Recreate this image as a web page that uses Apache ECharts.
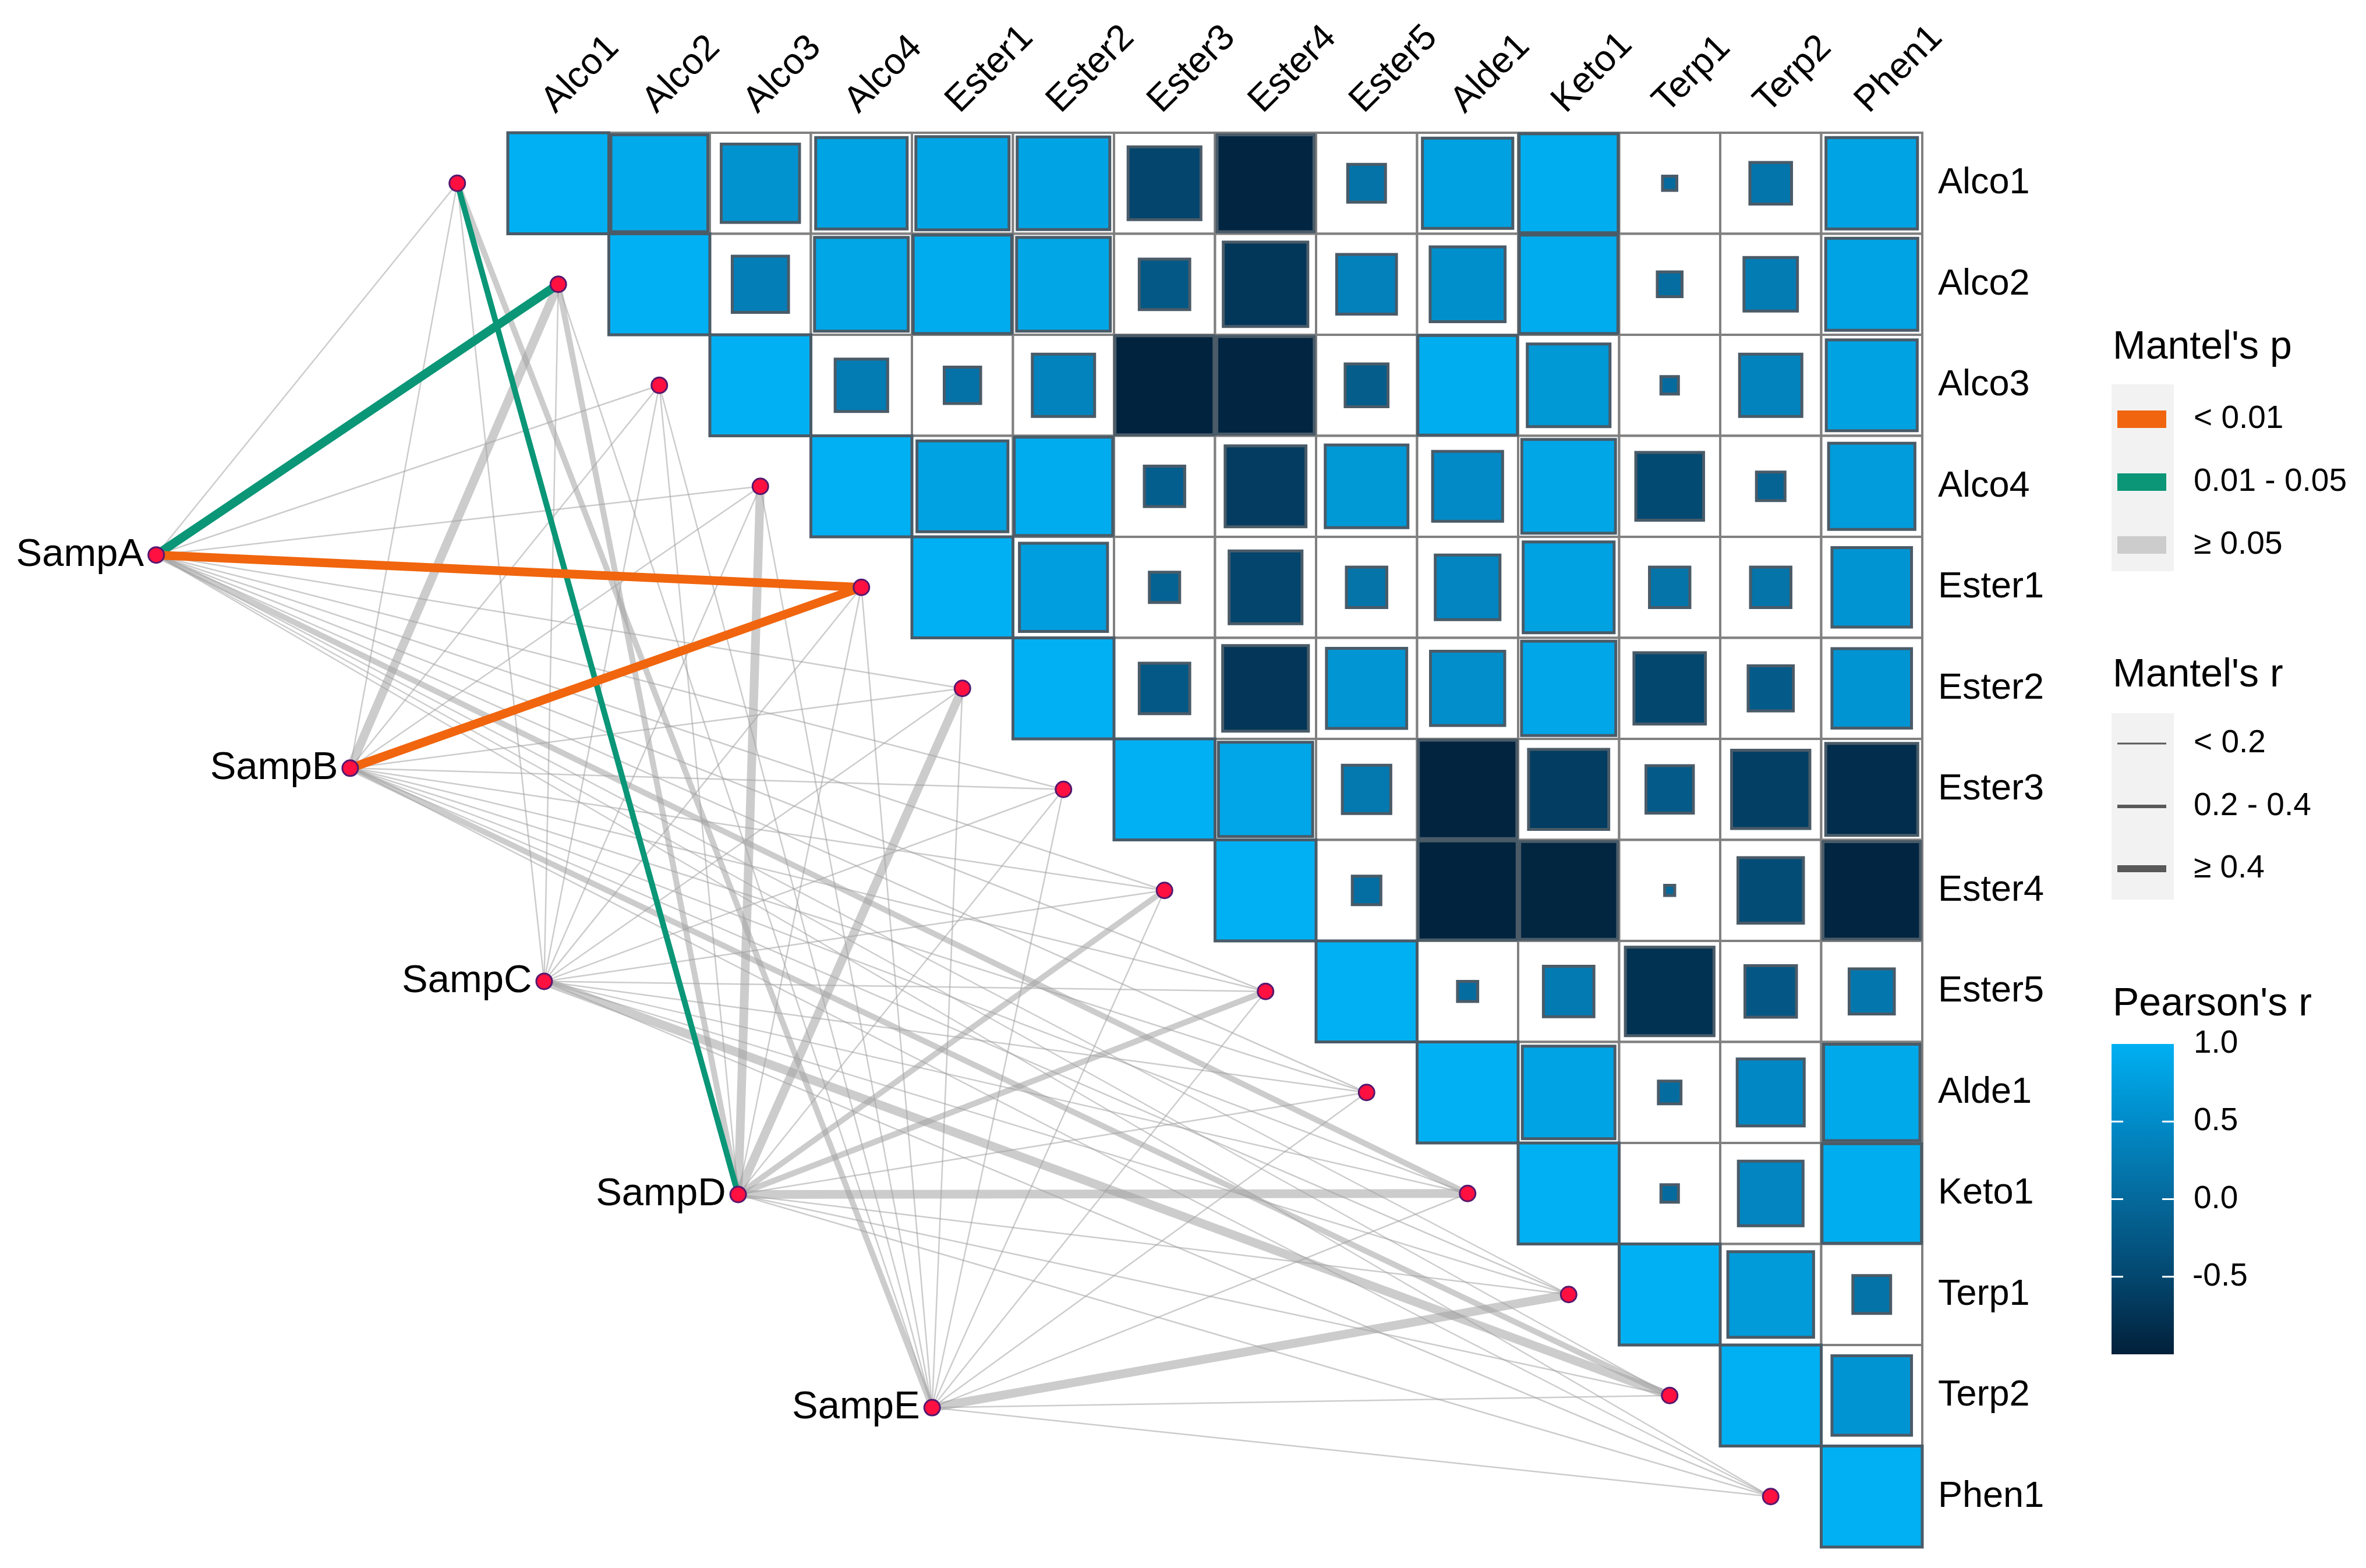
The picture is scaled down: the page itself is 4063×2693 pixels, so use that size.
<!DOCTYPE html>
<html>
<head>
<meta charset="utf-8">
<script src="https://cdn.jsdelivr.net/npm/echarts@6/dist/echarts.min.js"></script>
<style>
html,body{margin:0;padding:0;background:#ffffff;}
#chart{width:4063px;height:2693px;}
</style>
</head>
<body>
<div id="chart"></div>
<script>
// ---------------- DATA ----------------
const variables = ['Alco1','Alco2','Alco3','Alco4','Ester1','Ester2','Ester3','Ester4','Ester5','Alde1','Keto1','Terp1','Terp2','Phen1'];
const samples = ['SampA','SampB','SampC','SampD','SampE'];

// Pearson's r, upper triangle; each row starts at its diagonal
const corrAlco1  = [1, 0.92, 0.60, 0.82, 0.85, 0.84, -0.52, -0.92, 0.14, 0.80, 0.96, 0.02, 0.17, 0.82];
const corrAlco2  = [1, 0.31, 0.86, 0.95, 0.86, -0.25, -0.70, 0.35, 0.55, 0.95, 0.06, 0.28, 0.83];
const corrAlco3  = [1, 0.27, 0.13, 0.38, -0.96, -0.93, -0.18, 0.97, 0.67, 0.03, 0.38, 0.81];
const corrAlco4  = [1, 0.81, 0.95, -0.16, -0.64, 0.67, 0.48, 0.86, -0.45, -0.08, 0.73];
const corrEster1 = [1, 0.76, -0.09, -0.52, 0.16, 0.41, 0.81, 0.16, 0.16, 0.62];
const corrEster2 = [1, -0.25, -0.72, 0.63, 0.54, 0.87, -0.50, -0.20, 0.62];
const corrEster3 = [1, 0.87, 0.23, -0.95, -0.63, -0.22, -0.60, -0.83];
const corrEster4 = [1, 0.08, -0.96, -0.94, -0.01, -0.42, -0.93];
const corrEster5 = [1, 0.04, 0.25, -0.77, -0.26, 0.20];
const corrAlde1  = [1, 0.84, 0.05, 0.44, 0.91];
const corrKeto1  = [1, 0.03, 0.41, 0.97];
const corrTerp1  = [1, 0.72, 0.14];
const corrTerp2  = [1, 0.62];
const corrPhen1  = [1];
const corrRows = [corrAlco1, corrAlco2, corrAlco3, corrAlco4, corrEster1, corrEster2, corrEster3,
                  corrEster4, corrEster5, corrAlde1, corrKeto1, corrTerp1, corrTerp2, corrPhen1];

// Mantel's r and p per sample (columns follow `variables`)
const mantelR_A = [0.12, 0.45, 0.08, 0.10, 0.52, 0.09, 0.06, 0.07, 0.11, 0.05, 0.28, 0.04, 0.10, 0.06];
const mantelR_B = [0.10, 0.42, 0.09, 0.07, 0.48, 0.08, 0.12, 0.15, 0.06, 0.09, 0.10, 0.05, 0.27, 0.08];
const mantelR_C = [0.08, 0.10, 0.06, 0.09, 0.12, 0.07, 0.05, 0.10, 0.08, 0.11, 0.09, 0.13, 0.44, 0.07];
const mantelR_D = [0.33, 0.31, 0.09, 0.41, 0.11, 0.43, 0.08, 0.29, 0.26, 0.12, 0.47, 0.14, 0.10, 0.09];
const mantelR_E = [0.24, 0.12, 0.08, 0.06, 0.10, 0.09, 0.11, 0.07, 0.05, 0.12, 0.08, 0.46, 0.13, 0.10];
const mantelP_A = [0.21, 0.02, 0.44, 0.36, 0.004, 0.52, 0.61, 0.58, 0.33, 0.70, 0.09, 0.77, 0.41, 0.66];
const mantelP_B = [0.31, 0.07, 0.48, 0.55, 0.006, 0.50, 0.37, 0.24, 0.69, 0.45, 0.39, 0.72, 0.11, 0.57];
const mantelP_C = [0.52, 0.40, 0.63, 0.47, 0.29, 0.58, 0.71, 0.42, 0.51, 0.36, 0.46, 0.27, 0.06, 0.60];
const mantelP_D = [0.03, 0.12, 0.49, 0.08, 0.38, 0.07, 0.54, 0.13, 0.16, 0.34, 0.06, 0.26, 0.43, 0.48];
const mantelP_E = [0.14, 0.35, 0.52, 0.64, 0.41, 0.47, 0.30, 0.59, 0.68, 0.33, 0.50, 0.07, 0.28, 0.39];
const mantelR = [mantelR_A, mantelR_B, mantelR_C, mantelR_D, mantelR_E];
const mantelP = [mantelP_A, mantelP_B, mantelP_C, mantelP_D, mantelP_E];

const pLegendLabels = ['< 0.01', '0.01 - 0.05', '\u2265 0.05'];
const rLegendLabels = ['< 0.2', '0.2 - 0.4', '\u2265 0.4'];
const colorbarTicks = [1.0, 0.5, 0.0, -0.5];

// ---------------- STYLE / LAYOUT ----------------
const FONT = '"Liberation Sans", Arial, Helvetica, sans-serif';
const pColors = ['#F0650E', '#0A9677', 'rgba(162,162,162,0.55)'];
const pKeyColors = ['#F0650E', '#0A9677', '#cccccc'];
const rWidths = [2.5, 10, 15];
const rKeyWidths = [3, 6, 12];
const fillStops = ['#02203a', '#03476f', '#05699b', '#018bc8', '#00b0f2'];
const N = variables.length;
const CELL = 173.5;
const GX = 872, GY = 228, GS = CELL * N;
// sample nodes are laid out evenly along a line (in cell units)
const sampleStart = [-3.48, 4.18], sampleStep = [1.92, 2.11];

function pClass(p){ return p < 0.01 ? 0 : (p < 0.05 ? 1 : 2); }
function rClass(r){ return r < 0.2 ? 0 : (r < 0.4 ? 1 : 2); }

const cellData = [];
corrRows.forEach((row, i) => row.forEach((v, k) => cellData.push([i + k, i, v])));

const varNodes = variables.map((v, i) => ({ name: v, value: [i - 0.5, i + 0.5] }));
const sampleNodes = samples.map((s, i) => ({
  name: s, value: [sampleStart[0] + i * sampleStep[0], sampleStart[1] + i * sampleStep[1]]
}));

const links = [];
samples.forEach((s, si) => variables.forEach((v, vi) => {
  const pc = pClass(mantelP[si][vi]), rc = rClass(mantelR[si][vi]);
  links.push({
    pc: pc,
    coords: [sampleNodes[si].value, varNodes[vi].value],
    lineStyle: { color: pColors[pc], width: rWidths[rc], opacity: 1 }
  });
}));
links.sort((a, b) => b.pc - a.pc);

function renderGridCell(params, api){
  const c = api.value(0), r = api.value(1);
  const p0 = api.coord([c, r]), p1 = api.coord([c + 1, r + 1]);
  return { type: 'rect', shape: { x: p0[0], y: p0[1], width: p1[0] - p0[0], height: p1[1] - p0[1] },
           style: { fill: '#ffffff', stroke: '#808080', lineWidth: 4 } };
}
function renderSquare(params, api){
  const c = api.value(0), r = api.value(1), v = api.value(2);
  const p0 = api.coord([c, r]), p1 = api.coord([c + 1, r + 1]);
  const w = p1[0] - p0[0], h = p1[1] - p0[1];
  const s = Math.sqrt(Math.abs(v));
  return { type: 'rect', shape: { x: p0[0] + w * (1 - s) / 2, y: p0[1] + h * (1 - s) / 2, width: w * s, height: h * s },
           style: { fill: api.visual('color'), stroke: '#4a5b68', lineWidth: 5 } };
}

// ---------------- LEGEND / LABEL GRAPHICS ----------------
const LX = 3626, LW = 107, TX = 3767;
const graphics = [];
function txt(text, x, y, size){
  return { type: 'text', z: 10, style: { text: text, x: x, y: y, fill: '#000', fontSize: size, fontFamily: FONT,
           textAlign: 'left', textVerticalAlign: 'middle', align: 'left', verticalAlign: 'middle' } };
}
// rotated column labels along the top of the matrix
variables.forEach((v, i) => {
  graphics.push({ type: 'text', z: 10, x: GX + (i + 0.5) * CELL + 5, y: GY - 22, rotation: Math.PI / 4,
    style: { text: v, x: 0, y: 0, fill: '#000', fontSize: 63, fontFamily: FONT,
             textAlign: 'left', textVerticalAlign: 'bottom', align: 'left', verticalAlign: 'bottom' } });
});
graphics.push(txt("Mantel's p", 3628, 597, 68));
graphics.push({ type: 'rect', shape: { x: LX, y: 660, width: LW, height: 321 }, style: { fill: '#f2f2f2' } });
const pKeyY = [720, 828, 936];
pKeyY.forEach((y, i) => {
  graphics.push({ type: 'rect', shape: { x: LX + 10, y: y - 15, width: 84, height: 30 }, style: { fill: pKeyColors[i] } });
  graphics.push(txt(pLegendLabels[i], TX, y, 55));
});
graphics.push(txt("Mantel's r", 3628, 1160, 68));
graphics.push({ type: 'rect', shape: { x: LX, y: 1225, width: LW, height: 320 }, style: { fill: '#f2f2f2' } });
const rKeyY = [1277, 1385, 1492];
rKeyY.forEach((y, i) => {
  graphics.push({ type: 'line', shape: { x1: LX + 10, y1: y, x2: LX + 94, y2: y }, style: { stroke: '#595959', lineWidth: rKeyWidths[i] } });
  graphics.push(txt(rLegendLabels[i], TX, y, 55));
});
graphics.push(txt("Pearson's r", 3628, 1725, 68));
const CB_TOP = 1793, CB_H = 533;
graphics.push({ type: 'rect', shape: { x: LX, y: CB_TOP, width: LW, height: CB_H },
  style: { fill: { type: 'linear', x: 0, y: 0, x2: 0, y2: 1, colorStops: fillStops.slice().reverse().map((c, i, a) => ({ offset: i / (a.length - 1), color: c })) } } });
colorbarTicks.forEach(v => {
  const y = CB_TOP + (1 - v) / 2 * CB_H;
  if (v < 1) {
    graphics.push({ type: 'line', z: 5, shape: { x1: LX, y1: y, x2: LX + 20, y2: y }, style: { stroke: '#ffffff', lineWidth: 3 } });
    graphics.push({ type: 'line', z: 5, shape: { x1: LX + LW - 20, y1: y, x2: LX + LW, y2: y }, style: { stroke: '#ffffff', lineWidth: 3 } });
  }
  graphics.push(txt(v.toFixed(1), v < 0 ? TX - 2 : TX, y, 55));
});

// ---------------- CHART ----------------
const chart = echarts.init(document.getElementById('chart'));
chart.setOption({
  animation: false,
  backgroundColor: '#ffffff',
  grid: [
    { left: GX - 5 * CELL, top: GY, width: 19 * CELL, height: GS },
    { left: GX, top: GY, width: GS, height: GS }
  ],
  xAxis: [
    { type: 'value', gridIndex: 0, min: -5, max: 14, show: false },
    { type: 'category', gridIndex: 1, position: 'top', data: variables, show: false }
  ],
  yAxis: [
    { type: 'value', gridIndex: 0, min: 0, max: 14, inverse: true, show: false },
    { type: 'category', gridIndex: 1, position: 'right', inverse: true, data: variables,
      axisLine: { show: false }, axisTick: { show: false }, splitLine: { show: false },
      axisLabel: { margin: 27, interval: 0, fontSize: 63, fontFamily: FONT, color: '#000' } }
  ],
  visualMap: {
    type: 'continuous', show: false, min: -1, max: 1, dimension: 2, seriesIndex: 1,
    inRange: { color: fillStops }
  },
  graphic: graphics,
  series: [
    { type: 'custom', xAxisIndex: 0, yAxisIndex: 0, renderItem: renderGridCell, data: cellData, silent: true },
    { type: 'custom', xAxisIndex: 0, yAxisIndex: 0, renderItem: renderSquare, data: cellData, silent: true },
    { type: 'lines', coordinateSystem: 'cartesian2d', xAxisIndex: 0, yAxisIndex: 0, clip: false,
      data: links, silent: true },
    { type: 'scatter', xAxisIndex: 0, yAxisIndex: 0, clip: false, symbolSize: 27,
      itemStyle: { color: '#ff1040', borderColor: '#55186e', borderWidth: 3, opacity: 1 },
      data: varNodes.concat(sampleNodes.map(n => Object.assign({}, n, {
        label: { show: true, position: 'left', distance: 6, formatter: '{b}', fontSize: 67, fontFamily: FONT, color: '#000' }
      }))),
      silent: true }
  ]
});
</script>
</body>
</html>
